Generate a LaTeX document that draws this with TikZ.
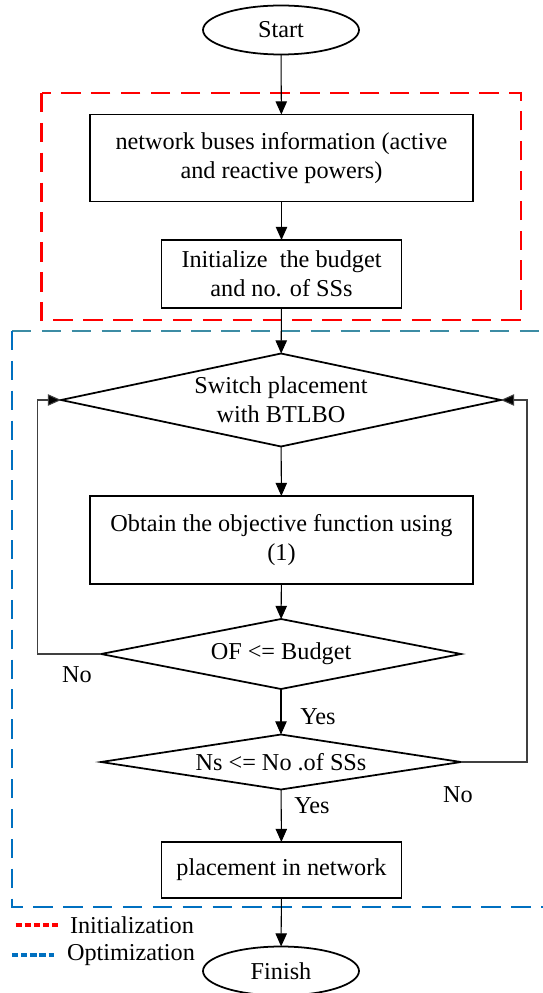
\documentclass[tikz,border=0pt]{standalone}
\usepackage{fontspec}
\setmainfont{Liberation Serif}
\usetikzlibrary{shapes.geometric,arrows.meta}
\definecolor{initred}{RGB}{255,0,0}
\definecolor{optblue}{RGB}{0,112,192}
\definecolor{optteal}{RGB}{60,140,164}
\tikzset{
  every node/.style={font=\fontsize{13.8}{16.6}\selectfont, outer sep=0pt},
  process/.style={draw, line width=1pt, rectangle, align=center, inner sep=0pt},
  decision/.style={draw, line width=1pt, diamond, align=center, inner sep=0pt},
  terminal/.style={draw, line width=1pt, ellipse, minimum width=3.12cm, minimum height=0.98cm},
  flow/.style={line width=0.6pt, -{Triangle[length=7.5pt,width=6.5pt]}},
  loopline/.style={line width=0.6pt, draw=black!75, -{Triangle[length=7.5pt,width=6.5pt,fill=black]}},
  zonebox/.style={line width=1.6pt, dash pattern=on 11pt off 6pt},
  keyline/.style={line width=2pt, dash pattern=on 3.6pt off 1.6pt},
  keytext/.style={anchor=west, inner sep=0pt}
}
\begin{document}
\begin{tikzpicture}[x=0.02cm,y=-0.02cm]
   \useasboundingbox (0,0) rectangle (542,993);
   % dashed regions
   \draw[zonebox,initred] (41.5,93) rectangle (521,320);
   \draw[zonebox,optteal] (12,331) -- (560,331);
   \draw[zonebox,optblue] (12,331) -- (12,907) -- (560,907);
   % flowchart blocks
   \node[terminal] (start) at (281,30) {Start};
   \node[process, minimum width=7.66cm, minimum height=1.74cm] (info) at (281.5,158)
        {network buses information (active\\and reactive powers)};
   \node[process, minimum width=4.8cm, minimum height=1.36cm] (init) at (281.5,274)
        {Initialize\ \ the budget\\and no. of SSs};
   \node[decision, minimum width=8.8cm, minimum height=1.86cm, shape aspect=4.7] (switch) at (281,400)
        {Switch placement\\with BTLBO};
   \node[process, minimum width=7.66cm, minimum height=1.76cm] (objfn) at (281.5,540)
        {Obtain the objective function using\\(1)};
   \node[decision, minimum width=7.2cm, minimum height=1.4cm, shape aspect=5.1] (ofcheck) at (281,654)
        {OF <= Budget};
   \node[decision, minimum width=7.2cm, minimum height=1.1cm, shape aspect=6.5] (nscheck) at (281,762)
        {Ns <= No .of SSs};
   \node[process, minimum width=4.8cm, minimum height=1.12cm] (place) at (281.5,870)
        {placement in network};
   \node[terminal] (finish) at (281,971) {Finish};
   % connectors
   \draw[flow] (start) -- (info);
   \draw[flow] (info) -- (init);
   \draw[flow] (init) -- (switch);
   \draw[flow] (switch) -- (objfn);
   \draw[flow] (objfn) -- (ofcheck);
   \draw[flow] (ofcheck) -- (nscheck);
   \draw[flow] (nscheck) -- (place);
   \draw[flow] (place) -- (finish);
   \draw[loopline] (ofcheck.west) -- ++(-64,0) |- (switch.west);
   \draw[loopline] (nscheck.east) -- ++(66,0) |- (switch.east);
   % branch labels
   \node (nol) at (77,675) {No};
   \node (yesu) at (318,717) {Yes};
   \node (nor) at (458,795) {No};
   \node (yesl) at (312,806) {Yes};
   % legend
   \draw[keyline,initred] (15.5,925) -- (59,925);
   \node[keytext] (keyinit) at (70,925) {Initialization};
   \draw[keyline,optblue] (12,955) -- (54,955);
   \node[keytext] (keyopt) at (67,955) {Optimization};
\end{tikzpicture}
\end{document}
